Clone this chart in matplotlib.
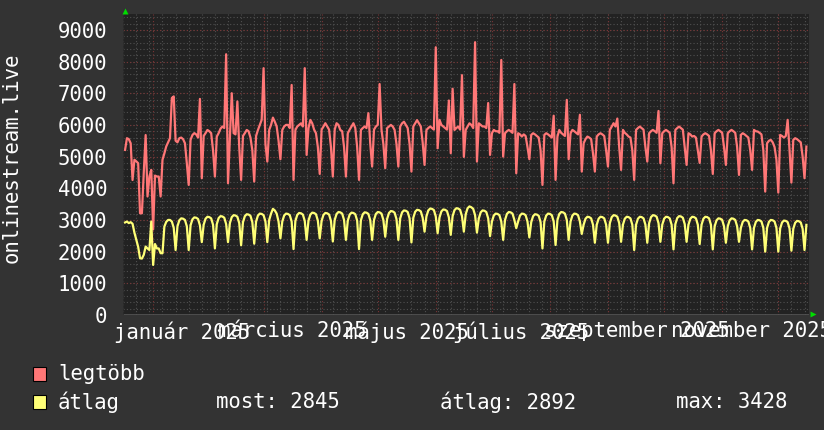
import datetime as dt
import matplotlib
matplotlib.use("Agg")
import matplotlib.pyplot as plt
from matplotlib.patches import Rectangle

# day 0 is the first sample (monday), one value per day
start = dt.date(2024, 12, 16)

legtobb = [
    5210, 5580, 5550, 5420, 4260, 4900, 4850,
    4790, 3210, 3210, 4500, 5680, 3740, 4370,
    4580, 2700, 4400, 4370, 4370, 3740, 4900,
    5100, 5320, 5450, 5580, 6850, 6900, 5500,
    5450, 5580, 5600, 5550, 5420, 4790, 4105,
    5530, 5680, 5740, 5700, 5600, 6820, 4316,
    5650, 5740, 5840, 5800, 5740, 5200, 4369,
    5630, 5740, 5880, 5950, 5900, 8230, 4158,
    5600, 7000, 5740, 5700, 6740, 5300, 4263,
    5650, 5740, 5840, 5800, 5600, 5200, 4211,
    5650, 5840, 6000, 6160, 7790, 5400, 4842,
    5840, 6000, 6230, 6100, 5950, 5500, 4916,
    5840, 5950, 6000, 6000, 5900, 7260, 4263,
    5840, 5950, 6000, 6050, 5950, 7790, 5053,
    5900, 6158, 6050, 5850, 5737, 5300, 4453,
    5850, 5947, 6053, 5950, 5850, 5300, 4369,
    5850, 6053, 6000, 5842, 5800, 5300, 4369,
    5737, 5850, 5950, 6053, 5900, 5300, 4263,
    5840, 5900, 5950, 5900, 6370, 5400, 4684,
    5850, 5950, 6000, 7290, 5850, 5400, 4632,
    5900, 5950, 6000, 5950, 5842, 5400, 4684,
    5950, 6050, 6100, 6000, 5900, 5400, 4526,
    5950, 6050, 6150, 6050, 5950, 5450, 4737,
    5840, 5900, 5950, 5900, 5850, 8450, 5263,
    6158, 6000, 5950, 5900, 5850, 6770, 5105,
    7140, 5840, 5900, 5950, 5850, 7570, 4990,
    5840, 5950, 6050, 6000, 5900, 8610, 4842,
    6050, 6000, 5950, 5950, 5900, 6690, 5053,
    5737, 5842, 5800, 5800, 5750, 8050, 5000,
    5737, 5800, 5842, 5800, 5750, 7290, 4474,
    5737, 5700, 5632, 5700, 5650, 5300, 4916,
    5684, 5737, 5700, 5650, 5600, 5200, 4105,
    5684, 5737, 5700, 5650, 5600, 6290, 4263,
    5632, 5842, 5750, 5700, 5650, 6790, 4916,
    5737, 5842, 5800, 5750, 5700, 6320, 4526,
    5421, 5550, 5632, 5600, 5550, 5100, 4526,
    5632, 5700, 5737, 5700, 5650, 5200, 4684,
    5842, 5950, 6053, 5950, 6200, 5300, 4579,
    5842, 5750, 5700, 5632, 5600, 5200, 4263,
    5842, 5900, 5947, 5900, 5850, 5300, 4842,
    5737, 5800, 5842, 5800, 5750, 6440, 4790,
    5737, 5800, 5842, 5800, 5750, 5300, 4158,
    5842, 5900, 5947, 5900, 5850, 5300, 4737,
    5737, 5700, 5632, 5650, 5600, 5200, 4800,
    5632, 5700, 5737, 5700, 5650, 5200, 4453,
    5737, 5800, 5842, 5800, 5750, 5300, 4737,
    5737, 5800, 5842, 5800, 5750, 5300, 4421,
    5684, 5737, 5700, 5650, 5600, 5200, 4579,
    5842, 5800, 5790, 5750, 5700, 5200, 3895,
    5421, 5500, 5527, 5450, 5300, 4900, 3863,
    5684, 5650, 5600, 5650, 6160, 5200, 4179,
    5527, 5580, 5550, 5500, 5450, 5000, 4316,
    5316,
]

atlag = [
    2920, 2950, 2900, 2930, 2880, 2600, 2370,
    2150, 1790, 1780, 1900, 2160, 2100, 2050,
    2950, 1580, 2240, 2100, 2100, 1950, 1950,
    2790, 2940, 3000, 3000, 2950, 2750, 2050,
    2800, 2990, 3050, 3040, 3000, 2800, 2050,
    2830, 3020, 3080, 3070, 3030, 2830, 2300,
    2850, 3040, 3100, 3090, 3050, 2850, 2100,
    2870, 3060, 3120, 3110, 3070, 2870, 2300,
    2900, 3090, 3150, 3140, 3100, 2900, 2200,
    2930, 3120, 3180, 3170, 3130, 2930, 2250,
    2950, 3140, 3200, 3190, 3150, 2950, 2300,
    3000, 3200, 3350, 3300, 3200, 2950, 2420,
    2950, 3140, 3200, 3190, 3150, 2950, 2080,
    2970, 3160, 3220, 3210, 3170, 2970, 2370,
    2980, 3170, 3230, 3220, 3180, 2980, 2420,
    2970, 3160, 3220, 3210, 3170, 2970, 2320,
    3000, 3190, 3250, 3240, 3200, 3000, 2370,
    2980, 3170, 3230, 3220, 3180, 2980, 2080,
    2990, 3180, 3240, 3230, 3190, 2990, 2370,
    3000, 3190, 3250, 3240, 3200, 3000, 2470,
    3030, 3220, 3280, 3270, 3230, 3030, 2370,
    3050, 3240, 3300, 3290, 3250, 3050, 2290,
    3070, 3260, 3320, 3310, 3270, 3070, 2630,
    3110, 3300, 3360, 3350, 3310, 3110, 2580,
    3080, 3270, 3330, 3320, 3280, 3080, 2530,
    3120, 3310, 3370, 3360, 3320, 3120, 2630,
    3180, 3370, 3428, 3400, 3350, 3150, 2600,
    3050, 3240, 3300, 3290, 3250, 3050, 2490,
    2950, 3140, 3200, 3190, 3150, 2950, 2370,
    3000, 3190, 3250, 3240, 3200, 3000, 2740,
    2950, 3140, 3200, 3190, 3150, 2950, 2450,
    2930, 3120, 3180, 3170, 3130, 2930, 2100,
    2950, 3140, 3200, 3190, 3150, 2950, 2210,
    3000, 3190, 3250, 3240, 3200, 3000, 2370,
    2950, 3140, 3200, 3190, 3150, 2950, 2560,
    2850, 3040, 3100, 3090, 3050, 2850, 2280,
    2850, 3040, 3100, 3090, 3050, 2850, 2280,
    2900, 3090, 3150, 3140, 3100, 2900, 2310,
    2850, 3040, 3100, 3090, 3050, 2850, 2050,
    2850, 3040, 3100, 3090, 3050, 2850, 2280,
    2900, 3090, 3150, 3140, 3100, 2900, 2310,
    2850, 3040, 3100, 3090, 3050, 2850, 2070,
    2870, 3060, 3120, 3110, 3070, 2870, 2310,
    2850, 3040, 3100, 3090, 3050, 2850, 2240,
    2850, 3040, 3100, 3090, 3050, 2850, 2070,
    2800, 2990, 3050, 3040, 3000, 2800, 2280,
    2800, 2990, 3050, 3040, 3000, 2800, 2310,
    2750, 2940, 3000, 2990, 2950, 2750, 2070,
    2750, 2940, 3000, 2990, 2950, 2750, 2000,
    2750, 2940, 3000, 2990, 2950, 2750, 2000,
    2730, 2920, 2980, 2970, 2930, 2730, 2030,
    2720, 2910, 2970, 2960, 2920, 2720, 2050,
    2845,
]

month_labels = ["január 2025", "március 2025", "május 2025",
                "július 2025", "szeptember 2025", "november 2025"]
label_months = [1, 3, 5, 7, 9, 11]
legend_names = ["legtöbb", "átlag"]
stats = ["most: 2845", "átlag: 2892", "max: 3428"]

RED = "#ff7777"
YELLOW = "#ffff77"
MONO = "DejaVu Sans Mono"
FS = 14.9


def day(y, m, d):
    return (dt.date(y, m, d) - start).days


fig = plt.figure(figsize=(8.24, 4.30), dpi=100, facecolor="#333333")
ax = fig.add_axes([123 / 824, 115 / 430, 686 / 824, 301 / 430])
ax.set_facecolor("#222222")

# each daily value is drawn at the end of its day
x = [i + 1 for i in range(len(atlag))]
ax.plot(x, legtobb, color=RED, lw=1.6, zorder=3)
ax.plot(x, atlag, color=YELLOW, lw=1.6, zorder=4)

ax.set_xlim(-0.1, 366.4)
ax.set_ylim(0, 9500)

# grid: weekly / 200 minor, monthly / 1000 major
for k in range(0, 367, 7):
    ax.axvline(k, color="#505050", lw=0.8, ls=(0, (1, 2)), zorder=1)
for v in range(200, 9500, 200):
    ax.axhline(v, color="#505050", lw=0.8, ls=(0, (1, 2)), zorder=1)
for m in [1, 3, 4, 5, 6, 7, 8, 9, 10, 11, 12]:
    ax.axvline(day(2025, m, 1), color="#7a3434", lw=0.8, ls=(0, (1, 2)), zorder=2)
for v in range(1000, 9500, 1000):
    ax.axhline(v, color="#7a3434", lw=0.8, ls=(0, (1, 2)), zorder=2)

for s in ax.spines.values():
    s.set_visible(False)
ax.axhline(0, color="#555555", lw=1.2, zorder=2)
ax.axvline(-0.1, color="#2a2a2a", lw=1.2, zorder=2)

ax.set_yticks(range(0, 9001, 1000))
ax.set_yticklabels([str(v) for v in range(0, 9001, 1000)])
ax.set_xticks([day(2025, m, 1) + 15.5 for m in label_months])
ax.set_xticklabels(month_labels)
ax.tick_params(axis="y", length=0, pad=11.5, labelcolor="white", labelsize=FS)
ax.tick_params(axis="x", length=0, pad=4.5, labelcolor="white", labelsize=FS)
for t in ax.get_xticklabels() + ax.get_yticklabels():
    t.set_fontfamily(MONO)

# little green arrows on the axes
ax.plot([0.003], [1.01], marker="^", color="#00dd00", ms=5, mec="none",
        transform=ax.transAxes, clip_on=False)
ax.plot([1.006], [0.004], marker=">", color="#00dd00", ms=5, mec="none",
        transform=ax.transAxes, clip_on=False)

fig.text(12 / 824, 1 - 158 / 430, "onlinestream.live", rotation=90,
         ha="center", va="center", color="white", fontsize=FS, family=MONO)

# legend
for i, (name, col) in enumerate(zip(legend_names, [RED, YELLOW])):
    yc = 374 + 28 * i
    fig.add_artist(Rectangle((33 / 824, 1 - (yc + 7) / 430), 13 / 824, 14 / 430,
                             facecolor=col, edgecolor="black", lw=0.8,
                             transform=fig.transFigure))
    fig.text(58 / 824, 1 - yc / 430, name, ha="left", va="center",
             color="white", fontsize=FS, family=MONO)
for xs, s in zip([216, 440, 676], stats):
    fig.text(xs / 824, 1 - 402 / 430, s, ha="left", va="center",
             color="white", fontsize=FS, family=MONO)

plt.savefig("out.png", dpi=100, facecolor=fig.get_facecolor())
